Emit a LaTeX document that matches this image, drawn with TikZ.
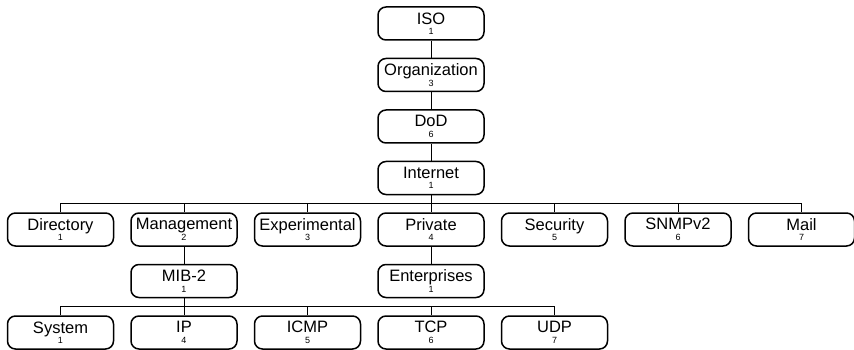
\documentclass[tikz,border=0pt]{standalone}
\usepackage{fontspec}
\setmainfont{Liberation Sans}
\usetikzlibrary{positioning}
\newcommand{\oidnum}[1]{\\[0.5pt]{\fontsize{9}{9}\selectfont #1}}

\begin{document}
\begin{tikzpicture}[x=1pt,y=1pt,node distance=51.5pt and 123.5pt,on grid,
  oid/.style={draw,line width=1.5pt,rounded corners=8pt,minimum width=106pt,
    minimum height=33pt,inner sep=0pt,align=center,font=\fontsize{16.5}{10}\selectfont},
  branch/.style={line width=0.7pt}]
\useasboundingbox (0,0) rectangle (854,-350);
\node[oid] (iso) at (431,-23.5) {ISO\oidnum{1}};
\node[oid] (org) [below=of iso] {Organization\oidnum{3}};
\node[oid] (dod) [below=of org] {DoD\oidnum{6}};
\node[oid] (internet) [below=of dod] {Internet\oidnum{1}};
\node[oid] (private) [below=of internet] {Private\oidnum{4}};
\node[oid] (experimental) [left=of private] {Experimental\oidnum{3}};
\node[oid] (management) [left=of experimental] {Management\oidnum{2}};
\node[oid] (directory) [left=of management] {Directory\oidnum{1}};
\node[oid] (security) [right=of private] {Security\oidnum{5}};
\node[oid] (snmpv2) [right=of security] {SNMPv2\oidnum{6}};
\node[oid] (mail) [right=of snmpv2] {Mail\oidnum{7}};
\node[oid] (mib2) [below=of management] {MIB-2\oidnum{1}};
\node[oid] (enterprises) [below=of private] {Enterprises\oidnum{1}};
\node[oid] (tcp) [below=of enterprises] {TCP\oidnum{6}};
\node[oid] (icmp) [left=of tcp] {ICMP\oidnum{5}};
\node[oid] (ip) [left=of icmp] {IP\oidnum{4}};
\node[oid] (system) [left=of ip] {System\oidnum{1}};
\node[oid] (udp) [right=of tcp] {UDP\oidnum{7}};
\coordinate[below=25.75pt of internet] (bus1);
\coordinate[below=25.75pt of mib2] (bus2);
\path[branch]
(iso) edge (org)
(org) edge (dod)
(dod) edge (internet)
(internet) edge (bus1)
(management) edge (mib2)
(private) edge (enterprises)
(mib2) edge (bus2);
\foreach \n in {directory,management,experimental,private,security,snmpv2,mail}
  \draw[branch] (bus1) -| (\n);
\foreach \n in {system,ip,icmp,tcp,udp}
  \draw[branch] (bus2) -| (\n);
\end{tikzpicture}
\end{document}
